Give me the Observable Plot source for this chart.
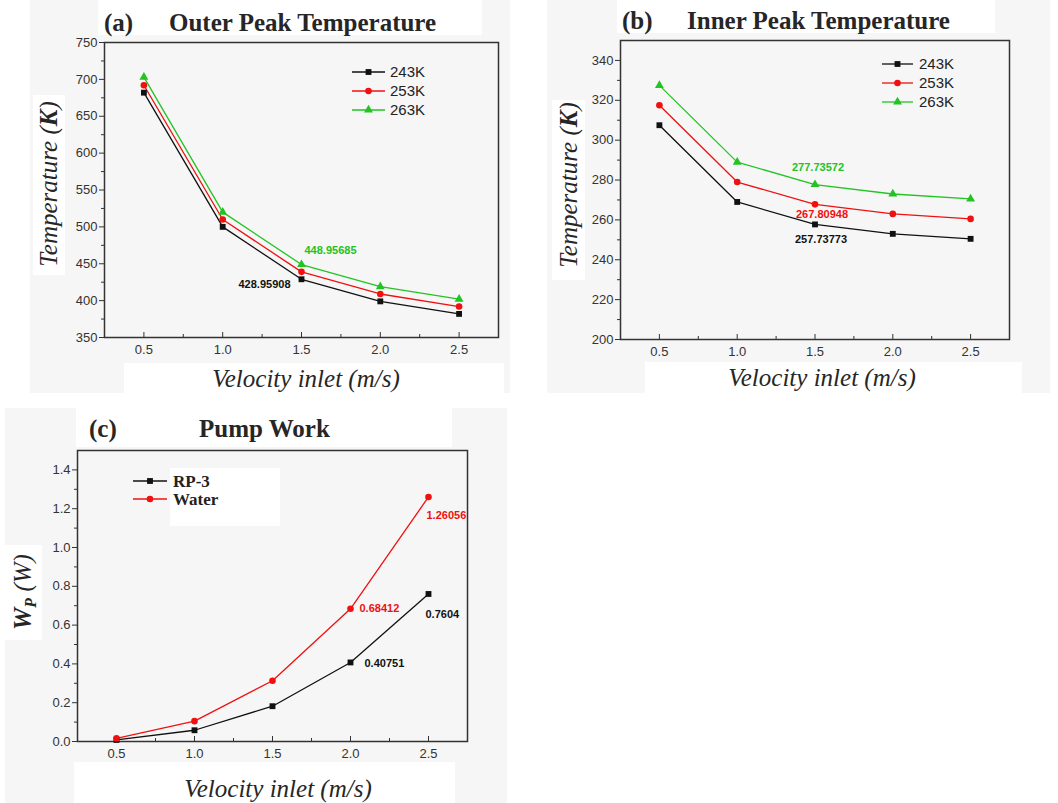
<!DOCTYPE html>
<html><head><meta charset="utf-8">
<script src="https://cdn.jsdelivr.net/npm/d3@7"></script>
<script src="https://cdn.jsdelivr.net/npm/@observablehq/plot@0.6"></script>
<style>
body{margin:0;background:#fff;}
#wrap{position:relative;width:1058px;height:803px;overflow:hidden;font-family:"Liberation Sans",Arial,sans-serif;}
.bg{position:absolute;}
.t{position:absolute;white-space:nowrap;line-height:1;}
.serif{font-family:"Liberation Serif","Times New Roman",serif;color:#262626;}
.panel{position:absolute;}
</style></head><body><div id="wrap"></div>
<script>
// ---------- data ----------
const velocity = [0.5, 1.0, 1.5, 2.0, 2.5];
const tempSeries = ["243K", "253K", "263K"];
const outer243 = [682, 500, 428.95908, 399, 382];
const outer253 = [692, 510, 439, 409, 392];
const outer263 = [703, 520, 448.95685, 419, 402];
const inner243 = [307.5, 269, 257.73773, 253, 250.5];
const inner253 = [317.5, 279, 267.80948, 263, 260.5];
const inner263 = [327.5, 289, 277.73572, 273, 270.5];
const pumpSeries = ["RP-3", "Water"];
const pumpRP3 = [0.008, 0.058, 0.182, 0.40751, 0.7604];
const pumpWater = [0.016, 0.105, 0.313, 0.68412, 1.26056];
const xTicks = [0.5, 1.0, 1.5, 2.0, 2.5];
const xMinor = [0.75, 1.25, 1.75, 2.25];
const outerTicks = [350, 400, 450, 500, 550, 600, 650, 700, 750];
const outerMinor = [375, 425, 475, 525, 575, 625, 675, 725];
const innerTicks = [200, 220, 240, 260, 280, 300, 320, 340];
const innerMinor = [210, 230, 250, 270, 290, 310, 330];
const pumpTicks = [0.0, 0.2, 0.4, 0.6, 0.8, 1.0, 1.2, 1.4];
const pumpMinor = [0.1, 0.3, 0.5, 0.7, 0.9, 1.1, 1.3];

const BLACK = "#111111", RED = "#f01010", GREEN = "#22c322";
const tempColors = [BLACK, RED, GREEN];
const tempSymbols = ["square", "circle", "triangle"];
const pumpColors = [BLACK, RED];
const pumpSymbols = ["square", "circle"];

function toRows(series, arrays) {
  const rows = [];
  series.forEach((s, k) => arrays[k].forEach((v, i) => rows.push({series: s, v: velocity[i], value: v})));
  return rows;
}
const outerData = toRows(tempSeries, [outer243, outer253, outer263]);
const innerData = toRows(tempSeries, [inner243, inner253, inner263]);
const pumpData = toRows(pumpSeries, [pumpRP3, pumpWater]);
const pick = (rows, s, i) => rows.filter(d => d.series === s)[i];

const wrap = document.getElementById("wrap");

// ---------- backgrounds ----------
function rect(l, t, w, h, c) {
  const d = document.createElement("div");
  d.className = "bg";
  Object.assign(d.style, {left: l + "px", top: t + "px", width: w + "px", height: h + "px", background: c});
  wrap.appendChild(d);
}
const GRAY = "#f6f6f6";
rect(30, 0, 480, 393, GRAY);
rect(98, 0, 384, 35, "#fff");
rect(124, 363, 380, 30, "#fff");
rect(33, 95, 32, 180, "#fff");
rect(547, 0, 503, 393, GRAY);
rect(617, 0, 378, 33, "#fff");
rect(645, 362, 377, 31, "#fff");
rect(552, 100, 33, 180, "#fff");
rect(5, 408, 502, 395, GRAY);
rect(76, 408, 376, 39, "#fff");
rect(74, 762, 381, 41, "#fff");
rect(5, 545, 37, 95, "#fff");

// ---------- panels ----------
function note(rows, s, i, color, opts) {
  return Plot.text([pick(rows, s, i)], {
    x: "v", y: "value", text: d => String(d.value), fill: color,
    fontWeight: "bold", fontSize: 11, fontFamily: "Liberation Sans, Arial, sans-serif", ...opts
  });
}

function makePanel(o) {
  const svg = Plot.plot({
    width: o.width, height: o.height,
    marginLeft: o.ml, marginRight: o.mr, marginTop: o.mt, marginBottom: o.mb,
    style: {background: "transparent", fontFamily: "Liberation Sans, Arial, sans-serif", fontSize: "13px", color: "#333", overflow: "visible"},
    x: {domain: [0.25, 2.75], label: null},
    y: {domain: o.yDomain, label: null},
    color: {domain: o.series, range: o.colors},
    symbol: {domain: o.series, range: o.symbols},
    marks: [
      Plot.axisY(o.yTicks, {tickSize: 5, tickPadding: 2, tickFormat: o.yFormat, fontSize: 13, label: null}),
      Plot.axisY(o.yMinor, {tickSize: 3, tickFormat: () => "", label: null}),
      Plot.axisX(xTicks, {tickSize: -5, tickPadding: 12, tickFormat: d3.format(".1f"), fontSize: 13, label: null}),
      Plot.axisX(xMinor, {tickSize: -3, tickFormat: () => "", label: null}),
      Plot.frame({stroke: "#333", strokeWidth: 1.5}),
      Plot.line(o.data, {x: "v", y: "value", z: "series", stroke: "series", strokeWidth: 1.3}),
      Plot.dot(o.data, {x: "v", y: "value", fill: "series", symbol: "series", r: 3.3}),
      ...o.notes
    ]
  });
  svg.classList.add("panel");
  svg.style.left = o.left + "px";
  svg.style.top = o.top + "px";
  wrap.appendChild(svg);
}

makePanel({
  left: 0, top: 0, width: 520, height: 400, ml: 104, mr: 22, mt: 42, mb: 63,
  yDomain: [350, 750], yTicks: outerTicks, yMinor: outerMinor, yFormat: d3.format("d"),
  data: outerData, series: tempSeries, colors: tempColors, symbols: tempSymbols,
  notes: [
    note(outerData, "263K", 2, GREEN, {textAnchor: "start", dx: 3, dy: -14}),
    note(outerData, "243K", 2, BLACK, {textAnchor: "end", dx: -11, dy: 5})
  ]
});
makePanel({
  left: 520, top: 0, width: 538, height: 400, ml: 100, mr: 49, mt: 40, mb: 61,
  yDomain: [200, 350], yTicks: innerTicks, yMinor: innerMinor, yFormat: d3.format("d"),
  data: innerData, series: tempSeries, colors: tempColors, symbols: tempSymbols,
  notes: [
    note(innerData, "263K", 2, GREEN, {textAnchor: "middle", dx: 3, dy: -17}),
    note(innerData, "253K", 2, RED, {textAnchor: "middle", dx: 7, dy: 10}),
    note(innerData, "243K", 2, BLACK, {textAnchor: "middle", dx: 6, dy: 15})
  ]
});
makePanel({
  left: 0, top: 400, width: 520, height: 403, ml: 77, mr: 53, mt: 50, mb: 62,
  yDomain: [0, 1.5], yTicks: pumpTicks, yMinor: pumpMinor, yFormat: d3.format(".1f"),
  data: pumpData, series: pumpSeries, colors: pumpColors, symbols: pumpSymbols,
  notes: [
    note(pumpData, "Water", 4, RED, {textAnchor: "start", dx: -2, dy: 19}),
    note(pumpData, "Water", 3, RED, {textAnchor: "start", dx: 9, dy: 0}),
    note(pumpData, "RP-3", 4, BLACK, {textAnchor: "start", dx: -3, dy: 20}),
    note(pumpData, "RP-3", 3, BLACK, {textAnchor: "start", dx: 14, dy: 1})
  ]
});

// ---------- text ----------
function text(html, l, t, css, center) {
  const d = document.createElement("div");
  d.className = "t " + (css.cls || "");
  d.innerHTML = html;
  d.style.left = l + "px";
  d.style.top = t + "px";
  Object.assign(d.style, css.style || {});
  d.style.transform = center;
  wrap.appendChild(d);
  return d;
}
const titleStyle = {cls: "serif", style: {fontSize: "25px", fontWeight: "bold"}};
text("(a)", 104, 22, titleStyle, "translateY(-50%)");
text("Outer Peak Temperature", 169, 22, titleStyle, "translateY(-50%)");
text("(b)", 622, 20, titleStyle, "translateY(-50%)");
text("Inner Peak Temperature", 687, 20, titleStyle, "translateY(-50%)");
text("(c)", 89, 428, titleStyle, "translateY(-50%)");
text("Pump Work", 199, 428, titleStyle, "translateY(-50%)");

const axStyle = {cls: "serif", style: {fontSize: "25px", fontStyle: "italic"}};
text("Velocity inlet (m/s)", 306, 378, axStyle, "translate(-50%,-50%)");
text("Velocity inlet (m/s)", 822, 377, axStyle, "translate(-50%,-50%)");
text("Velocity inlet (m/s)", 278, 788, axStyle, "translate(-50%,-50%)");
text("Temperature (<b>K</b>)", 48, 184, axStyle, "translate(-50%,-50%) rotate(-90deg)");
text("Temperature (<b>K</b>)", 568, 185, axStyle, "translate(-50%,-50%) rotate(-90deg)");
text("<b>W</b><sub style='font-size:16px;font-weight:bold;vertical-align:-5px'>P</sub> (W)", 24, 592, axStyle, "translate(-50%,-50%) rotate(-90deg)");

// ---------- legends ----------
function legend(x0, x1, tx, ys, labels, colors, symbols, fontCss) {
  const svg = d3.create("svg").attr("class", "panel").attr("width", 1058).attr("height", 803)
    .style("left", "0px").style("top", "0px").style("pointer-events", "none");
  const symMap = {square: d3.symbolSquare, circle: d3.symbolCircle, triangle: d3.symbolTriangle};
  labels.forEach((lab, i) => {
    svg.append("line").attr("x1", x0).attr("x2", x1).attr("y1", ys[i]).attr("y2", ys[i])
      .attr("stroke", colors[i]).attr("stroke-width", 1.3);
    svg.append("path").attr("d", d3.symbol(symMap[symbols[i]], Math.PI * 3.3 * 3.3)())
      .attr("transform", `translate(${(x0 + x1) / 2},${ys[i]})`).attr("fill", colors[i]);
    svg.append("text").attr("x", tx).attr("y", ys[i]).attr("dy", "0.35em").text(lab)
      .attr("fill", "#222").attr("style", fontCss);
  });
  wrap.appendChild(svg.node());
}
legend(352, 385, 390, [72, 91, 110], tempSeries, tempColors, tempSymbols, "font: 15px 'Liberation Sans', Arial, sans-serif");
legend(882, 913, 919, [64, 83, 102], tempSeries, tempColors, tempSymbols, "font: 15px 'Liberation Sans', Arial, sans-serif");
rect(170, 468, 110, 58, "#fff");
legend(133, 167, 173, [481, 499], pumpSeries, pumpColors, pumpSymbols, "font: bold 17px 'Liberation Serif', 'Times New Roman', serif");
</script></body></html>
